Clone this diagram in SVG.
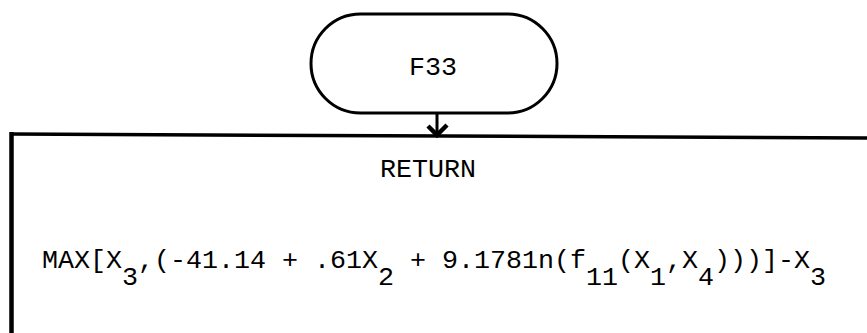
<svg xmlns="http://www.w3.org/2000/svg" width="867" height="333" viewBox="0 0 867 333">
<style>
  .ln { stroke:#000; fill:none; stroke-linecap:butt; }
  .t { font-family:"Liberation Mono","Courier New",monospace; font-size:26.7px; fill:#000; }
</style>
<rect width="867" height="333" fill="#fff"/>
<g id="start">
  <rect class="ln" x="311" y="14" width="246" height="99" rx="49.5" ry="49.5" stroke-width="3"/>
  <text class="t" x="433" y="75" text-anchor="middle">F33</text>
</g>
<g id="connectors">
  <line class="ln" x1="437" y1="113" x2="437" y2="135" stroke-width="3"/>
  <path class="ln" d="M428,126 L437,135 L447,125" stroke-width="4.5" stroke-linejoin="miter"/>
</g>
<g id="return">
  <line class="ln" x1="10" y1="134" x2="867" y2="138" stroke-width="3.5"/>
  <line class="ln" x1="11.5" y1="132" x2="11.5" y2="333" stroke-width="4.5"/>
  <text class="t" x="428" y="177" text-anchor="middle">RETURN</text>
  <text class="t" x="42" y="268" textLength="784" lengthAdjust="spacing">MAX[X<tspan dy="17">3</tspan><tspan dy="-17">,(-41.14 + .61X</tspan><tspan dy="17">2</tspan><tspan dy="-17"> + 9.1781n(f</tspan><tspan dy="17">11</tspan><tspan dy="-17">(X</tspan><tspan dy="17">1</tspan><tspan dy="-17">,X</tspan><tspan dy="17">4</tspan><tspan dy="-17">)))]-X</tspan><tspan dy="17">3</tspan></text>
</g>
</svg>
